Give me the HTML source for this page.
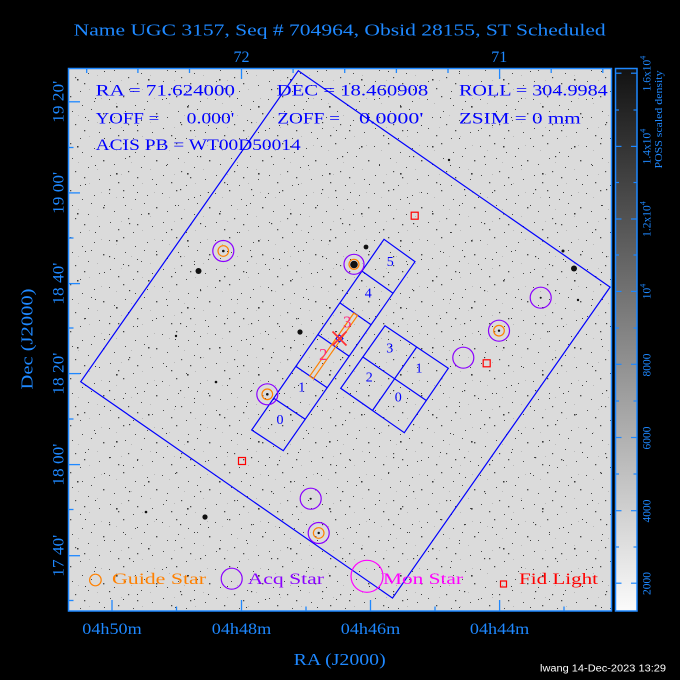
<!DOCTYPE html>
<html><head><meta charset="utf-8"><style>
html,body{margin:0;padding:0;background:#000;}
svg{display:block;}
text{font-family:"Liberation Serif",serif;}
</style></head><body>
<svg width="680" height="680" viewBox="0 0 680 680" xmlns="http://www.w3.org/2000/svg">
<defs>
<linearGradient id="cb" x1="0" y1="0" x2="0" y2="1">
<stop offset="0" stop-color="#121212"/><stop offset="1" stop-color="#fbfbfb"/>
</linearGradient>
<pattern id="n1" width="53" height="47" patternUnits="userSpaceOnUse">
<g fill="#4a4a4a">
<rect x="3" y="5" width="1" height="1"/><rect x="17" y="2" width="1.3" height="1.3"/><rect x="29" y="11" width="1" height="1"/>
<rect x="41" y="7" width="1" height="1"/><rect x="50" y="19" width="1.4" height="1.4"/><rect x="8" y="23" width="1" height="1"/>
<rect x="22" y="30" width="1.2" height="1.2"/><rect x="35" y="26" width="1" height="1"/><rect x="46" y="38" width="1" height="1"/>
<rect x="12" y="41" width="1.3" height="1.3"/><rect x="27" y="44" width="1" height="1"/><rect x="4" y="34" width="1" height="1"/>
<rect x="38" y="15" width="1" height="1"/><rect x="19" y="17" width="1" height="1"/><rect x="31" y="36" width="1.3" height="1.3"/>
</g>
<g fill="#b8b8b8">
<rect x="10" y="9" width="1" height="1"/><rect x="25" y="21" width="1" height="1"/><rect x="44" y="28" width="1" height="1"/>
<rect x="15" y="33" width="1" height="1"/><rect x="36" y="42" width="1" height="1"/><rect x="48" y="4" width="1" height="1"/>
</g>
</pattern>
<pattern id="n2" width="71" height="67" patternUnits="userSpaceOnUse">
<g fill="#3a3a3a">
<rect x="6" y="12" width="1.5" height="1.5"/><rect x="33" y="4" width="1" height="1"/><rect x="58" y="22" width="1.2" height="1.2"/>
<rect x="14" y="50" width="1" height="1"/><rect x="45" y="39" width="1.6" height="1.6"/><rect x="66" y="58" width="1" height="1"/>
<rect x="24" y="31" width="1" height="1"/><rect x="52" y="63" width="1" height="1"/><rect x="38" y="55" width="1.2" height="1.2"/>
</g>
</pattern>
</defs>

<!-- image area -->
<rect x="68.5" y="68.5" width="543" height="543" fill="#dbdbdb"/>
<rect x="68.5" y="68.5" width="543" height="543" fill="url(#n1)"/>
<rect x="68.5" y="68.5" width="543" height="543" fill="url(#n2)"/>
<g fill="#111">
<circle cx="354" cy="264.5" r="3.8"/><circle cx="366" cy="247" r="2.4"/><circle cx="198.5" cy="271" r="3"/>
<circle cx="300" cy="332" r="2.6"/><circle cx="574" cy="268.5" r="3"/><circle cx="205" cy="517" r="2.6"/>
<circle cx="223.3" cy="251" r="1.3"/><circle cx="499" cy="330.7" r="1.2"/><circle cx="267.3" cy="394.3" r="1.3"/>
<circle cx="318.7" cy="533" r="1.2"/><circle cx="310.7" cy="498.7" r="1"/><circle cx="540.7" cy="297.7" r="1"/>
<circle cx="563" cy="251" r="1.5"/><circle cx="216" cy="382" r="1.3"/><circle cx="176" cy="336" r="1.2"/>
<circle cx="146" cy="512" r="1.3"/><circle cx="449" cy="160" r="1.2"/><circle cx="578" cy="300" r="1.2"/>
</g>

<!-- outer square -->
<polygon points="298.3,70.7 610.1,287.1 392.5,598.1 80.7,381.7" fill="none" stroke="#0000ff" stroke-width="1.2"/>
<!-- ACIS-S strip -->
<g fill="none" stroke="#0000ff" stroke-width="1.2">
<polygon points="251.7,430 283.3,450.7 415,261.7 384,239.3"/>
<line x1="273.75" y1="398.22" x2="305.25" y2="419.2"/>
<line x1="295.8" y1="366.43" x2="327.2" y2="387.7"/>
<line x1="317.85" y1="334.65" x2="349.15" y2="356.2"/>
<line x1="339.9" y1="302.87" x2="371.1" y2="324.7"/>
<line x1="361.95" y1="271.08" x2="393.05" y2="293.2"/>
<!-- ACIS-I -->
<polygon points="385,325.7 448.3,368.3 404.3,432.7 340.7,388.3"/>
<line x1="416.7" y1="347" x2="372.5" y2="410.5"/>
<line x1="362.9" y1="357" x2="426.3" y2="400.5"/>
</g>
<g fill="#0000ff" font-size="14" text-anchor="middle">
<text x="389.7" y="352.3">3</text><text x="419" y="372.7">1</text><text x="369.3" y="381.7">2</text><text x="398.3" y="401.7">0</text>
<text x="280" y="424">0</text><text x="301.7" y="391.7">1</text><text x="368.3" y="297.7">4</text><text x="390.3" y="266">5</text>
</g>
<!-- HRC-S -->
<polygon points="309.7,376.2 313.3,378.8 357.4,315.7 353.8,313.1" fill="none" stroke="#ff8000" stroke-width="1.2"/>
<g fill="#ff2a7f" font-size="17" text-anchor="middle">
<text x="323.3" y="360">2</text><text x="347.3" y="327.5">3</text>
</g>
<polygon points="339.5,335 343,338.5 339.5,342 336,338.5" fill="none" stroke="#0000ff" stroke-width="1"/>
<g stroke="#ff3030" stroke-width="1.8">
<line x1="332.5" y1="331.5" x2="346.5" y2="345.5"/><line x1="332.5" y1="345.5" x2="346.5" y2="331.5"/>
</g>

<!-- stars -->
<g fill="none" stroke="#8a00ff" stroke-width="1.2">
<circle cx="223.3" cy="251" r="10.5"/><circle cx="267.3" cy="394.3" r="10.5"/><circle cx="354" cy="264.3" r="10"/>
<circle cx="540.7" cy="297.7" r="10.5"/><circle cx="499" cy="330.7" r="10.5"/><circle cx="463.3" cy="357.7" r="10.5"/>
<circle cx="310.7" cy="498.7" r="10.5"/><circle cx="318.7" cy="533" r="10.5"/>
</g>
<g fill="none" stroke="#ff8000" stroke-width="1.2">
<circle cx="223.3" cy="251" r="5.3"/><circle cx="267.3" cy="394.3" r="5.3"/><circle cx="354" cy="264.3" r="5"/>
<circle cx="499" cy="330.7" r="5.3"/><circle cx="318.7" cy="533" r="5.3"/>
</g>
<g fill="none" stroke="#ff0000" stroke-width="1.2">
<rect x="411.2" y="212.2" width="7" height="7"/><rect x="483.2" y="359.8" width="7" height="7"/><rect x="238.5" y="457.5" width="7" height="7"/>
</g>

<!-- info text -->
<g fill="#0000ff" font-size="16" lengthAdjust="spacingAndGlyphs">
<text x="95.7" y="95.7" textLength="139.3" lengthAdjust="spacingAndGlyphs">RA = 71.624000</text>
<text x="276.7" y="95.7" textLength="151.6" lengthAdjust="spacingAndGlyphs">DEC = 18.460908</text>
<text x="459" y="95.7" textLength="148.7" lengthAdjust="spacingAndGlyphs">ROLL = 304.9984</text>
<text x="95.7" y="123.3" textLength="63.6" lengthAdjust="spacingAndGlyphs">YOFF =</text>
<text x="186.7" y="123.3" textLength="47.6" lengthAdjust="spacingAndGlyphs">0.000'</text>
<text x="277.3" y="123.3" textLength="62.7" lengthAdjust="spacingAndGlyphs">ZOFF =</text>
<text x="359" y="123.3" textLength="64.3" lengthAdjust="spacingAndGlyphs">0.0000'</text>
<text x="459" y="123.3" textLength="121.7" lengthAdjust="spacingAndGlyphs">ZSIM = 0 mm</text>
<text x="95.7" y="150" textLength="205" lengthAdjust="spacingAndGlyphs">ACIS PB = WT00D50014</text>
</g>

<!-- legend -->
<circle cx="95.4" cy="580" r="5.8" fill="none" stroke="#ff8000" stroke-width="1.2"/>
<text x="112" y="584" font-size="16" fill="#ff8000" textLength="94" lengthAdjust="spacingAndGlyphs">Guide Star</text>
<circle cx="231.7" cy="578.7" r="10.5" fill="none" stroke="#8a00ff" stroke-width="1.2"/>
<text x="247.7" y="584" font-size="16" fill="#8a00ff" textLength="76.3" lengthAdjust="spacingAndGlyphs">Acq Star</text>
<circle cx="367" cy="576.3" r="16" fill="none" stroke="#ff00ff" stroke-width="1.2"/>
<text x="383" y="584" font-size="16" fill="#ff00ff" textLength="80" lengthAdjust="spacingAndGlyphs">Mon Star</text>
<rect x="500.5" y="581" width="6" height="6" fill="none" stroke="#ff0000" stroke-width="1.2"/>
<text x="519" y="584" font-size="16" fill="#ff0000" textLength="79" lengthAdjust="spacingAndGlyphs">Fid Light</text>

<!-- frame & ticks -->
<rect x="68.5" y="68.5" width="543" height="542.5" fill="none" stroke="#1e88ff" stroke-width="1.5"/>
<g stroke="#1e88ff" stroke-width="1.3">
<!-- top -->
<line x1="86.7" y1="69" x2="86.7" y2="73"/><line x1="137.9" y1="69" x2="137.9" y2="73"/><line x1="189.5" y1="69" x2="189.5" y2="73"/>
<line x1="241.5" y1="69" x2="241.5" y2="79"/><line x1="293.1" y1="69" x2="293.1" y2="73"/><line x1="344.7" y1="69" x2="344.7" y2="73"/>
<line x1="396.4" y1="69" x2="396.4" y2="73"/><line x1="448" y1="69" x2="448" y2="73"/><line x1="499.6" y1="69" x2="499.6" y2="79"/>
<line x1="551.2" y1="69" x2="551.2" y2="73"/><line x1="602.8" y1="69" x2="602.8" y2="73"/>
<!-- bottom -->
<line x1="112" y1="611" x2="112" y2="600"/><line x1="241.5" y1="611" x2="241.5" y2="600"/><line x1="370.5" y1="611" x2="370.5" y2="600"/><line x1="499.6" y1="611" x2="499.6" y2="600"/>
<line x1="176.5" y1="611" x2="176.5" y2="606.5"/><line x1="306" y1="611" x2="306" y2="606.5"/><line x1="435" y1="611" x2="435" y2="606.5"/><line x1="564" y1="611" x2="564" y2="606.5"/>
<!-- left -->
<line x1="69" y1="101.8" x2="80" y2="101.8"/><line x1="69" y1="192.9" x2="80" y2="192.9"/><line x1="69" y1="283.6" x2="80" y2="283.6"/>
<line x1="69" y1="373.6" x2="80" y2="373.6"/><line x1="69" y1="464.6" x2="80" y2="464.6"/><line x1="69" y1="555.7" x2="80" y2="555.7"/>
<line x1="69" y1="147.5" x2="73.5" y2="147.5"/><line x1="69" y1="238" x2="73.5" y2="238"/><line x1="69" y1="328" x2="73.5" y2="328"/>
<line x1="69" y1="419" x2="73.5" y2="419"/><line x1="69" y1="509.5" x2="73.5" y2="509.5"/><line x1="69" y1="600.5" x2="73.5" y2="600.5"/>
</g>

<!-- colorbar -->
<rect x="615.5" y="68.5" width="21.5" height="542.5" fill="url(#cb)" stroke="#1e88ff" stroke-width="1.5"/>
<g stroke="#1e88ff" stroke-width="1.2">
<line x1="616" y1="583.2" x2="621.5" y2="583.2"/><line x1="631" y1="583.2" x2="636.5" y2="583.2"/>
<line x1="616" y1="510.7" x2="621.5" y2="510.7"/><line x1="631" y1="510.7" x2="636.5" y2="510.7"/>
<line x1="616" y1="437.5" x2="621.5" y2="437.5"/><line x1="631" y1="437.5" x2="636.5" y2="437.5"/>
<line x1="616" y1="364.3" x2="621.5" y2="364.3"/><line x1="631" y1="364.3" x2="636.5" y2="364.3"/>
<line x1="616" y1="291.4" x2="621.5" y2="291.4"/><line x1="631" y1="291.4" x2="636.5" y2="291.4"/>
<line x1="616" y1="219" x2="621.5" y2="219"/><line x1="631" y1="219" x2="636.5" y2="219"/>
<line x1="616" y1="146.4" x2="621.5" y2="146.4"/><line x1="631" y1="146.4" x2="636.5" y2="146.4"/>
<line x1="616" y1="73.2" x2="621.5" y2="73.2"/><line x1="631" y1="73.2" x2="636.5" y2="73.2"/>
<line x1="616" y1="547" x2="619" y2="547"/><line x1="633.5" y1="547" x2="636.5" y2="547"/>
<line x1="616" y1="474" x2="619" y2="474"/><line x1="633.5" y1="474" x2="636.5" y2="474"/>
<line x1="616" y1="401" x2="619" y2="401"/><line x1="633.5" y1="401" x2="636.5" y2="401"/>
<line x1="616" y1="328" x2="619" y2="328"/><line x1="633.5" y1="328" x2="636.5" y2="328"/>
<line x1="616" y1="255" x2="619" y2="255"/><line x1="633.5" y1="255" x2="636.5" y2="255"/>
<line x1="616" y1="182.5" x2="619" y2="182.5"/><line x1="633.5" y1="182.5" x2="636.5" y2="182.5"/>
<line x1="616" y1="110" x2="619" y2="110"/><line x1="633.5" y1="110" x2="636.5" y2="110"/>
</g>
<g fill="#1e88ff" font-size="11.5" text-anchor="middle">
<text transform="translate(650.5,583.5) rotate(-90)">2000</text>
<text transform="translate(650.5,511) rotate(-90)">4000</text>
<text transform="translate(650.5,438) rotate(-90)">6000</text>
<text transform="translate(650.5,365) rotate(-90)">8000</text>
<text transform="translate(650.5,291.5) rotate(-90)">10<tspan font-size="8" dy="-5">4</tspan></text>
<text transform="translate(650.5,219) rotate(-90)">1.2x10<tspan font-size="8" dy="-5">4</tspan></text>
<text transform="translate(650.5,146.5) rotate(-90)">1.4x10<tspan font-size="8" dy="-5">4</tspan></text>
<text transform="translate(650.5,73.5) rotate(-90)">1.6x10<tspan font-size="8" dy="-5">4</tspan></text>
<text transform="translate(662,119.5) rotate(-90)" font-size="10" textLength="98" lengthAdjust="spacingAndGlyphs">POSS scaled density</text>
</g>

<!-- axis labels -->
<g fill="#1e88ff" font-size="16" text-anchor="middle">
<text x="339.7" y="35.5" font-size="17" textLength="532" lengthAdjust="spacingAndGlyphs">Name UGC 3157, Seq # 704964, Obsid 28155, ST Scheduled</text>
<text x="241.5" y="62">72</text>
<text x="499.3" y="62">71</text>
<text x="112" y="634" textLength="59.4" lengthAdjust="spacingAndGlyphs">04h50m</text>
<text x="241.5" y="634" textLength="59.4" lengthAdjust="spacingAndGlyphs">04h48m</text>
<text x="370.5" y="634" textLength="59.4" lengthAdjust="spacingAndGlyphs">04h46m</text>
<text x="499.6" y="634" textLength="59.4" lengthAdjust="spacingAndGlyphs">04h44m</text>
<text x="339.7" y="665" font-size="17" textLength="92" lengthAdjust="spacingAndGlyphs">RA (J2000)</text>
<text transform="translate(32.5,339) rotate(-90)" font-size="17" textLength="101" lengthAdjust="spacingAndGlyphs">Dec (J2000)</text>
<text transform="translate(63.5,101.8) rotate(-90)" textLength="42" lengthAdjust="spacingAndGlyphs">19 20'</text>
<text transform="translate(63.5,192.9) rotate(-90)" textLength="42" lengthAdjust="spacingAndGlyphs">19 00'</text>
<text transform="translate(63.5,283.6) rotate(-90)" textLength="42" lengthAdjust="spacingAndGlyphs">18 40'</text>
<text transform="translate(63.5,373.6) rotate(-90)" textLength="42" lengthAdjust="spacingAndGlyphs">18 20'</text>
<text transform="translate(63.5,464.6) rotate(-90)" textLength="42" lengthAdjust="spacingAndGlyphs">18 00'</text>
<text transform="translate(63.5,555.7) rotate(-90)" textLength="42" lengthAdjust="spacingAndGlyphs">17 40'</text>
</g>
<text x="540" y="671.5" fill="#ffffff" font-size="10" style="font-family:'Liberation Sans',sans-serif" textLength="126" lengthAdjust="spacingAndGlyphs">lwang 14-Dec-2023 13:29</text>
</svg>
</body></html>
